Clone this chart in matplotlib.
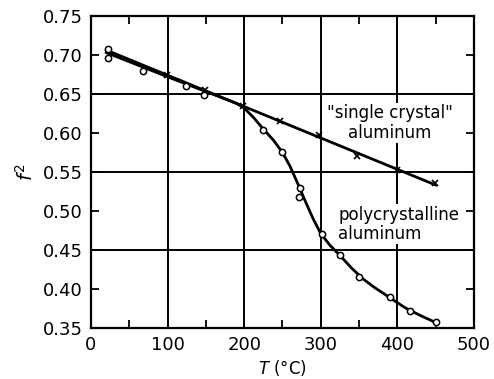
import numpy as np
import matplotlib
matplotlib.use("Agg")
import matplotlib.pyplot as plt
from matplotlib.ticker import MultipleLocator

# polycrystalline aluminum (open circles)
poly_T = [22, 22, 68, 124, 148, 224, 249, 273, 272, 301, 325, 350, 390, 416, 450]
poly_f2 = [0.708, 0.696, 0.679, 0.660, 0.649, 0.604, 0.576, 0.530, 0.518, 0.470, 0.444, 0.416, 0.390, 0.372, 0.358]

# smooth curve drawn through the polycrystalline points
curve_T = [20, 100, 190, 200, 212, 225, 238, 250, 260, 270, 280, 290, 300, 312, 325, 340, 355, 370, 390, 410, 430, 450]
curve_f2 = [0.703, 0.672, 0.638, 0.632, 0.620, 0.605, 0.591, 0.575, 0.557, 0.535, 0.512, 0.490, 0.471, 0.456, 0.443,
            0.427, 0.413, 0.402, 0.389, 0.376, 0.366, 0.357]

# "single crystal" aluminum (x marks)
sc_T = [99, 149, 198, 247, 298, 347, 399, 449]
sc_f2 = [0.674, 0.655, 0.634, 0.616, 0.597, 0.571, 0.552, 0.536]

grid_x = [100, 200, 300, 400]
grid_y = [0.45, 0.55, 0.65]

fig = plt.figure(figsize=(4.94, 3.79), dpi=100)
ax = fig.add_axes([0.1842, 0.1346, 0.7753, 0.8232])

for gx in grid_x:
    ax.axvline(gx, color="black", lw=1.4, zorder=1)
for gy in grid_y:
    ax.axhline(gy, color="black", lw=1.4, zorder=1)

# straight line through the single crystal data
fit = np.polyfit(sc_T, sc_f2, 1)
line_T = np.array([20, 450])
ax.plot(line_T, np.polyval(fit, line_T), color="black", lw=2, zorder=2)
ax.plot(sc_T, sc_f2, "x", color="black", ms=4, mew=1.2, zorder=3)

ax.plot(curve_T, curve_f2, color="black", lw=2, zorder=2)
ax.plot(poly_T, poly_f2, "o", mfc="white", mec="black", ms=4.5, mew=1.1, zorder=4)

# white boxes hide the grid behind the labels, but not the data lines
box = dict(facecolor="white", edgecolor="none", pad=1)
ax.text(390, 0.613, '"single crystal"\naluminum', ha="center", va="center",
        fontsize=12, linespacing=1.1, bbox=box, zorder=1.5)
ax.text(323, 0.483, "polycrystalline\naluminum", ha="left", va="center",
        fontsize=12, linespacing=1.1, bbox=box, zorder=1.5)

ax.set_xlim(0, 500)
ax.set_ylim(0.35, 0.75)
ax.xaxis.set_major_locator(MultipleLocator(100))
ax.xaxis.set_minor_locator(MultipleLocator(50))
ax.yaxis.set_major_locator(MultipleLocator(0.05))
ax.yaxis.set_major_formatter(matplotlib.ticker.FormatStrFormatter("%.2f"))
ax.tick_params(which="both", direction="in", top=True, right=True, labelsize=13, width=1.3)
ax.tick_params(which="major", length=6, pad=6)
ax.tick_params(which="minor", length=6)
for s in ax.spines.values():
    s.set_linewidth(1.6)

ax.set_xlabel(r"$T$ (°C)", fontsize=12, labelpad=3)
ax.set_ylabel(r"$f^2$", fontsize=14, labelpad=4)

fig.savefig("out.png", dpi=100)
